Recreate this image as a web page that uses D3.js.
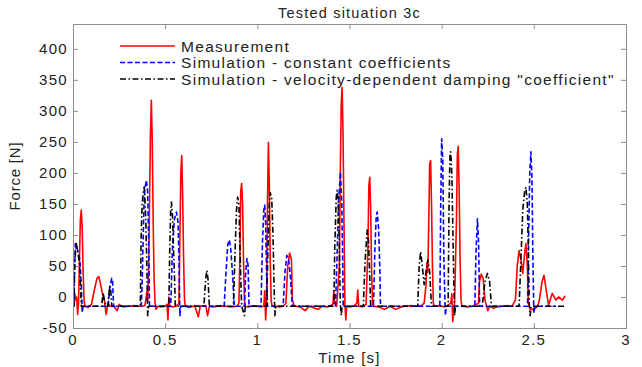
<!DOCTYPE html>
<html lang="en">
<head>
    <meta charset="UTF-8">
    <title>Tested situation 3c</title>
    <script src="https://d3js.org/d3.v7.min.js"></script>
    <style>
        body { margin: 0; background: #fff; }
        text {
            font-family: "Liberation Sans", Arial, sans-serif;
            fill: #222;
        }
        .frame { fill: none; stroke: #8c8c8c; stroke-width: 1; }
        .tick line { stroke: #8c8c8c; }
        .series { fill: none; stroke-width: 1.6; stroke-linejoin: round; }
        .measured { stroke: #ff0000; }
        .constant { stroke: #0000ff; stroke-dasharray: 5,2.5; }
        .velocity { stroke: #000; stroke-dasharray: 6,2.5,1.5,2.5; }
        .tickLabel { font-size: 15px; letter-spacing: 1.3px; }
        .legend text { font-size: 15.5px; letter-spacing: 1.3px; }
        .label { font-size: 15px; letter-spacing: 1.2px; }
    </style>
</head>
<body>
<script>
    const width = 642;
    const height = 367;
    const margin = {left: 73, right: 16, top: 24, bottom: 39};

    const xTicks = [0, 0.5, 1, 1.5, 2, 2.5, 3];
    const yTicks = [-50, 0, 50, 100, 150, 200, 250, 300, 350, 400];
    const seriesNames = ["Measurement", "Simulation - constant coefficients",
        "Simulation - velocity-dependent damping \"coefficient\""];

    // [time s, force N]
    const measured = [
        [0.00,-5],[0.005,-15],[0.01,5],[0.015,-5],[0.02,0],[0.025,-28],[0.03,-10],[0.035,60],[0.04,125],
        [0.045,140],[0.05,110],[0.055,40],[0.06,-5],[0.065,-15],[0.08,-17],[0.1,-12],[0.115,10],[0.13,30],
        [0.14,33],[0.15,20],[0.16,5],[0.17,-5],[0.18,-28],[0.19,-10],[0.2,-15],[0.22,-15],[0.24,-22],
        [0.25,-12],[0.27,-16],[0.3,-15],[0.33,-14],[0.36,-15],[0.39,-14],[0.395,-5],[0.40,8],[0.405,-5],
        [0.41,40],[0.415,150],[0.42,260],[0.425,317],[0.43,250],[0.435,120],[0.44,30],[0.445,-10],[0.45,-20],
        [0.46,-15],[0.48,-16],[0.5,-15],[0.51,-12],[0.515,-37],[0.52,0],[0.525,-15],[0.54,-16],[0.56,-15],
        [0.575,-10],[0.58,100],[0.585,200],[0.59,228],[0.595,160],[0.6,60],[0.605,-5],[0.61,-15],[0.63,-17],
        [0.66,-14],[0.68,-32],[0.69,-15],[0.72,-14],[0.73,-30],[0.74,-15],[0.76,-16],[0.8,-14],[0.83,-15],
        [0.86,-16],[0.89,-15],[0.9,-10],[0.905,60],[0.91,170],[0.915,183],[0.92,150],[0.925,60],[0.93,-5],
        [0.935,-15],[0.95,-16],[0.98,-14],[1.0,-15],[1.02,-16],[1.035,-15],[1.04,10],[1.045,-37],[1.05,-10],
        [1.055,150],[1.06,249],[1.065,180],[1.07,60],[1.075,-5],[1.08,-15],[1.1,-15],[1.12,-16],[1.14,-15],
        [1.155,-10],[1.165,50],[1.175,71],[1.185,60],[1.19,-5],[1.2,-14],[1.23,-16],[1.26,-22],[1.28,-15],
        [1.3,-17],[1.33,-20],[1.35,-15],[1.38,-16],[1.41,-12],[1.415,10],[1.42,-10],[1.43,-15],[1.445,50],
        [1.45,200],[1.455,310],[1.46,338],[1.465,260],[1.47,120],[1.475,-10],[1.48,-37],[1.485,-15],[1.5,-16],
        [1.52,-15],[1.54,-10],[1.545,11],[1.55,-15],[1.57,-16],[1.59,-12],[1.6,80],[1.605,180],[1.61,193],
        [1.615,140],[1.62,40],[1.625,-10],[1.63,-15],[1.66,-16],[1.69,-20],[1.72,-15],[1.75,-20],[1.78,-16],
        [1.8,-15],[1.83,-14],[1.86,-15],[1.89,-14],[1.905,-10],[1.915,20],[1.92,55],[1.925,40],[1.93,120],
        [1.935,215],[1.94,220],[1.945,150],[1.95,50],[1.955,-10],[1.96,-15],[1.99,-14],[2.02,-16],[2.05,-10],
        [2.055,5],[2.06,-40],[2.07,-10],[2.08,120],[2.085,230],[2.09,243],[2.095,170],[2.1,60],[2.105,-5],
        [2.11,-15],[2.14,-16],[2.17,-15],[2.2,-10],[2.205,25],[2.215,37],[2.225,30],[2.235,-5],[2.25,-22],
        [2.26,-15],[2.28,-18],[2.3,-16],[2.33,-15],[2.36,-14],[2.38,-15],[2.4,-5],[2.41,50],[2.42,75],
        [2.43,60],[2.44,38],[2.45,70],[2.457,86],[2.465,50],[2.47,-10],[2.48,-20],[2.5,-20],[2.52,-15],
        [2.53,-5],[2.545,25],[2.555,35],[2.565,15],[2.58,-13],[2.6,6],[2.62,-5],[2.635,0],[2.655,-5],[2.67,2]
    ];

    const constantCoef = [
        [0,-15],[0.005,-15],[0.008,40],[0.013,86],[0.02,80],[0.03,70],[0.037,60],[0.045,20],[0.05,-25],
        [0.055,-15],[0.19,-15],[0.2,15],[0.21,30],[0.215,25],[0.22,-15],[0.37,-15],[0.375,20],[0.385,150],
        [0.39,175],[0.398,188],[0.405,170],[0.41,100],[0.415,-15],[0.53,-15],[0.54,80],[0.55,125],[0.561,137],
        [0.57,120],[0.575,60],[0.58,-30],[0.585,-15],[0.82,-15],[0.83,40],[0.84,85],[0.848,92],[0.855,80],
        [0.865,40],[0.875,-15],[0.93,-15],[0.937,40],[0.944,62],[0.95,50],[0.955,-15],[1.02,-15],[1.028,90],
        [1.035,140],[1.04,148],[1.045,120],[1.05,40],[1.055,-15],[1.14,-15],[1.15,40],[1.16,67],[1.17,60],
        [1.18,30],[1.19,-15],[1.424,-15],[1.432,60],[1.44,150],[1.451,201],[1.458,150],[1.463,60],[1.466,-15],
        [1.63,-15],[1.638,80],[1.645,130],[1.65,137],[1.658,110],[1.665,40],[1.668,-15],[1.99,-15],[1.995,150],
        [2.0,255],[2.006,220],[2.012,60],[2.02,-30],[2.025,-15],[2.18,-15],[2.186,70],[2.194,126],[2.2,90],
        [2.206,-15],[2.466,-15],[2.472,100],[2.478,200],[2.484,234],[2.49,190],[2.495,60],[2.5,-26],[2.505,-15],
        [2.62,-15]
    ];

    const velocityDep = [
        [0,-15],[0.005,-15],[0.01,60],[0.018,86],[0.025,75],[0.035,55],[0.04,20],[0.045,-15],[0.155,-15],
        [0.163,7],[0.17,-5],[0.18,-15],[0.19,-15],[0.198,17],[0.205,10],[0.21,-15],[0.365,-15],[0.37,100],
        [0.375,150],[0.38,165],[0.386,177],[0.39,160],[0.395,120],[0.4,60],[0.405,-30],[0.41,-15],[0.52,-15],
        [0.525,80],[0.53,140],[0.534,153],[0.54,130],[0.545,80],[0.55,40],[0.555,-15],[0.71,-15],[0.72,30],
        [0.726,43],[0.732,30],[0.74,-15],[0.87,-15],[0.88,80],[0.887,140],[0.893,161],[0.9,150],[0.905,90],
        [0.91,30],[0.915,-15],[0.93,-30],[0.935,-15],[1.05,-15],[1.058,80],[1.065,150],[1.07,168],[1.078,160],
        [1.085,100],[1.09,30],[1.095,-30],[1.1,-15],[1.415,-15],[1.42,80],[1.428,160],[1.433,172],[1.44,150],
        [1.445,80],[1.45,-10],[1.455,-30],[1.46,-15],[1.575,-15],[1.585,60],[1.596,108],[1.603,90],[1.61,30],
        [1.615,-15],[1.87,-15],[1.878,50],[1.886,73],[1.895,50],[1.905,20],[1.915,40],[1.925,60],[1.935,40],
        [1.945,-15],[2.035,-15],[2.04,150],[2.045,230],[2.049,234],[2.055,200],[2.06,120],[2.065,40],[2.07,-30],
        [2.075,-15],[2.22,-15],[2.235,25],[2.248,38],[2.26,25],[2.27,-15],[2.42,-15],[2.43,60],[2.44,140],
        [2.45,170],[2.457,177],[2.465,150],[2.47,80],[2.475,-10],[2.48,-30],[2.485,-15],[2.67,-15]
    ];

    const x = d3.scaleLinear().domain([0, 3]).range([margin.left, width - margin.right]);
    const y = d3.scaleLinear().domain([-50, 440]).range([height - margin.bottom, margin.top]);

    const svg = d3.select("body").append("svg").attr("width", width).attr("height", height);

    svg.append("clipPath").attr("id", "plotClip")
        .append("rect")
        .attr("x", margin.left).attr("y", margin.top)
        .attr("width", width - margin.left - margin.right)
        .attr("height", height - margin.top - margin.bottom);

    // axes: ticks inward on all four sides
    const tickLen = 5;
    svg.append("g").attr("transform", `translate(0,${height - margin.bottom})`)
        .call(d3.axisBottom(x).tickValues(xTicks).tickSize(-tickLen).tickFormat(""))
        .call(g => g.select(".domain").remove());
    svg.append("g").attr("transform", `translate(0,${margin.top})`)
        .call(d3.axisTop(x).tickValues(xTicks).tickSize(-tickLen).tickFormat(""))
        .call(g => g.select(".domain").remove());
    svg.append("g").attr("transform", `translate(${margin.left},0)`)
        .call(d3.axisLeft(y).tickValues(yTicks).tickSize(-tickLen).tickFormat(""))
        .call(g => g.select(".domain").remove());
    svg.append("g").attr("transform", `translate(${width - margin.right},0)`)
        .call(d3.axisRight(y).tickValues(yTicks).tickSize(-tickLen).tickFormat(""))
        .call(g => g.select(".domain").remove());

    svg.append("g").selectAll("text").data(xTicks).enter().append("text")
        .attr("class", "tickLabel")
        .attr("x", d => x(d)).attr("y", height - margin.bottom + 16.5)
        .attr("text-anchor", "middle")
        .text(d => d3.format("~g")(d));
    svg.append("g").selectAll("text").data(yTicks).enter().append("text")
        .attr("class", "tickLabel")
        .attr("x", margin.left - 5).attr("y", d => y(d) + 5)
        .attr("text-anchor", "end")
        .text(d => d);

    // series
    const line = d3.line().x(d => x(d[0])).y(d => y(d[1]));
    const plot = svg.append("g").attr("clip-path", "url(#plotClip)");
    plot.append("path").datum(measured).attr("class", "series measured").attr("d", line);
    plot.append("path").datum(constantCoef).attr("class", "series constant").attr("d", line);
    plot.append("path").datum(velocityDep).attr("class", "series velocity").attr("d", line);

    svg.append("rect").attr("class", "frame")
        .attr("x", margin.left + 0.5).attr("y", margin.top + 0.5)
        .attr("width", width - margin.left - margin.right)
        .attr("height", height - margin.top - margin.bottom);

    // legend
    const legend = svg.append("g").attr("class", "legend");
    const legendClasses = ["measured", "constant", "velocity"];
    seriesNames.forEach((name, i) => {
        const ly = 46 + i * 16.5;
        legend.append("line").attr("class", "series " + legendClasses[i])
            .attr("x1", 120).attr("x2", 175).attr("y1", ly).attr("y2", ly);
        legend.append("text").attr("x", 181).attr("y", ly + 5.5).text(name);
    });

    // titles
    svg.append("text").attr("class", "label")
        .attr("x", (margin.left + width - margin.right) / 2).attr("y", 18)
        .attr("text-anchor", "middle").style("font-size", "14.5px")
        .text("Tested situation 3c");
    svg.append("text").attr("class", "label")
        .attr("x", (margin.left + width - margin.right) / 2).attr("y", 362.5)
        .attr("text-anchor", "middle")
        .text("Time [s]");
    svg.append("text").attr("class", "label")
        .attr("transform", `translate(20,${(margin.top + height - margin.bottom) / 2}) rotate(-90)`)
        .attr("text-anchor", "middle").style("letter-spacing", "0.8px")
        .text("Force [N]");
</script>
</body>
</html>
